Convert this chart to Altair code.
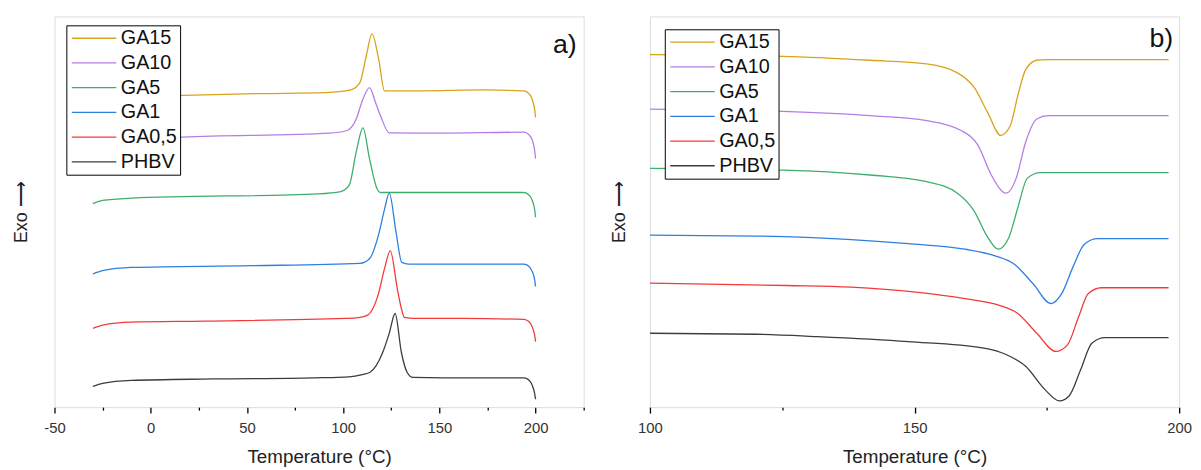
import altair as alt
import pandas as pd

series = ["GA15", "GA10", "GA5", "GA1", "GA0,5", "PHBV"]
colors = ["#D9A21B", "#B47DE6", "#3DAE6C", "#2E7FE0", "#F23A3A", "#3C3C3C"]
panel_labels = ["a)", "b)"]

# ---- panel a) (crystallization), temperature in °C, signal in arbitrary units
a_T = {
    "PHBV": [-30, -25, -10, 32, 85, 103, 110, 114, 120.5, 124, 127, 130.3, 133.3, 136.3, 152, 194, 196.5, 198.3, 199.5, 200],
    "GA0,5": [-30, -25, -10, 28, 101, 108, 112.7, 118.4, 121.5, 124.5, 128.3, 130.5, 131.8, 137, 162, 194, 196.5, 198.3, 199.5, 200],
    "GA1": [-30, -25, -10, 52, 108.7, 113.7, 118.5, 121.5, 124, 127.4, 130.5, 134, 194, 196.5, 198.3, 199.5, 200],
    "GA5": [-30, -25, -10, 87, 98.8, 103.2, 106.8, 110.3, 113.7, 117.5, 119.4, 194, 196.5, 198.3, 199.5, 200],
    "GA10": [-30, 16.7, 93, 102, 106.8, 110, 113.7, 117, 119.4, 124, 150, 194, 196.5, 198.3, 199.5, 200],
    "GA15": [-30, 16.7, 56.7, 91, 104, 108.7, 112, 115, 118.5, 121.5, 139, 174, 194, 196.5, 198.3, 199.5, 200],
}
a_Y = {
    "PHBV": [21, 24, 27, 28.5, 29.7, 30.7, 33, 35.3, 55, 75, 94.7, 55, 35, 30, 29.7, 29.7, 27.5, 22, 14, 8],
    "GA0,5": [79.7, 83, 86, 87, 89.7, 90.5, 93, 115, 140, 158, 118, 98, 90.7, 89.7, 89.7, 88.7, 86.5, 81, 73, 66.3],
    "GA1": [134.7, 138, 141.3, 143, 145.3, 150, 175, 200, 216.3, 178, 146.3, 144.7, 144.7, 142.5, 137, 129, 122],
    "GA5": [205.7, 209, 211.3, 215.7, 218, 224.7, 258, 282.3, 251.3, 221.3, 217, 217, 214.5, 209, 200, 192],
    "GA10": [268, 273, 277, 279.7, 291.3, 310, 323, 307, 294.7, 277.3, 277, 278, 275.5, 270, 260, 251.3],
    "GA15": [312, 315.3, 317, 318, 320.7, 328, 355, 377.3, 351.3, 319.7, 319.7, 320.7, 319.7, 317, 311, 301, 293],
}

# ---- panel b) (melting)
b_T = {
    "GA15": [100, 125.1, 141.6, 152.3, 158.1, 161.3, 163.8, 166.3, 168.1, 169.5, 171, 173.1, 174.8, 198],
    "GA10": [100, 125.1, 141.6, 152.3, 158.8, 162, 164.5, 167.3, 169.2, 171, 173.1, 175.3, 198],
    "GA5": [100, 125.1, 141.6, 152.3, 158.1, 161.3, 163.5, 165.8, 167.8, 169.5, 171.3, 173.8, 198],
    "GA1": [100, 120.1, 137.3, 148.8, 159.5, 165.2, 168.8, 172.4, 175.8, 177.8, 179.9, 182.1, 184.6, 198],
    "GA0,5": [100, 125.8, 138, 150.2, 159.5, 166, 169.5, 173.1, 176.7, 178.9, 181, 182.8, 185.3, 198],
    "PHBV": [100, 120.1, 131.6, 148.8, 163.1, 167.4, 171, 174.6, 177.4, 179.2, 181.4, 183.5, 186, 198],
}
b_Y = {
    "GA15": [356.3, 354.7, 350.7, 347, 338, 323, 298, 274.7, 284.7, 314.7, 341.3, 350.7, 351.3, 351.3],
    "GA10": [301.3, 299, 294.7, 289.7, 279.7, 264.7, 234.7, 216.3, 231.3, 268, 291.3, 294.7, 294.7],
    "GA5": [241.3, 239.7, 234.7, 228, 216.3, 198, 174.7, 159.7, 171.3, 201.3, 231.3, 237, 237],
    "GA1": [174, 173, 169.7, 165.3, 159.7, 153, 144.7, 124.7, 104.7, 114.7, 141.3, 164.7, 170.3, 170.3],
    "GA0,5": [125.3, 123, 121.3, 116.3, 109.7, 103, 94.7, 74.7, 56.3, 63, 91.3, 114.7, 120.7, 120.7],
    "PHBV": [74.7, 73.7, 71.3, 66.3, 59.7, 53, 41.3, 18, 6.3, 11.3, 38, 64.7, 70.3, 70.3],
}


def frame(T, Y):
    rows = []
    for s in series:
        for i, (t, y) in enumerate(zip(T[s], Y[s])):
            rows.append({"sample": s, "T": t, "signal": y, "i": i})
    return pd.DataFrame(rows)


FONT = "Liberation Sans"
W, H = 535, 395


def panel(df, xdom, xvals, label, legend_x, legend_y, title_pad, label_x, label_y):
    legend = alt.Legend(
        title=None, orient="none", legendX=legend_x, legendY=legend_y,
        fillColor="white", strokeColor="black",
        padding=3, labelFont=FONT, labelFontSize=20, labelColor="#111",
        symbolType="M-3,0H3", symbolSize=225, symbolStrokeWidth=1.4,
        symbolOffset=15, labelOffset=17, rowPadding=5,
    )
    lines = alt.Chart(df).mark_line(strokeWidth=1.3, interpolate="monotone", clip=True).encode(
        x=alt.X("T:Q", scale=alt.Scale(domain=xdom, nice=False, zero=False),
                axis=alt.Axis(values=xvals, title="Temperature (°C)", grid=False, domain=False,
                              labelExpr="datum.value % 50 === 0 ? '' + datum.value : ''",
                              tickSize={"condition": {"test": "datum.value % 50 === 0", "value": 6}, "value": 3},
                              tickColor="black", tickWidth=1.3, labelFontSize=15, labelColor="#333",
                              labelFont=FONT, titleFont=FONT, titleFontSize=19, titleFontWeight="normal",
                              titleColor="#222", labelPadding=8, titlePadding=12, labelFlush=False)),
        y=alt.Y("signal:Q", scale=alt.Scale(domain=[0, 395], nice=False, zero=False),
                axis=alt.Axis(title="Exo \u27f6", labels=False, ticks=False, domain=False, grid=False,
                              titleFont=FONT, titleFontSize=18, titleFontWeight="normal",
                              titleColor="#222", titlePadding=title_pad)),
        color=alt.Color("sample:N", scale=alt.Scale(domain=series, range=colors), legend=legend),
        order="i:Q",
    )
    txt = alt.Chart(pd.DataFrame({"t": [label]})).mark_text(
        font=FONT, fontSize=27, color="#111", align="center", baseline="middle"
    ).encode(text="t:N", x=alt.value(label_x), y=alt.value(label_y))
    return alt.layer(lines, txt).properties(width=W, height=H)


left = panel(frame(a_T, a_Y), [-50, 225], list(range(-50, 226, 25)), panel_labels[0],
             12, 9, 24, 516, 29)
right = panel(frame(b_T, b_Y), [100, 200], [100, 125, 150, 175, 200], panel_labels[1],
              15, 13, 22, 517, 23)

chart = alt.hconcat(left, right, spacing=24).resolve_scale(color="independent").resolve_legend(
    color="independent"
).properties(
    padding={"left": 4, "top": 5, "right": 0, "bottom": 0}
).configure_view(stroke="black", strokeWidth=1.5).configure(background="white")

chart.save("out.html", embed_options={"renderer": "svg", "actions": False})
